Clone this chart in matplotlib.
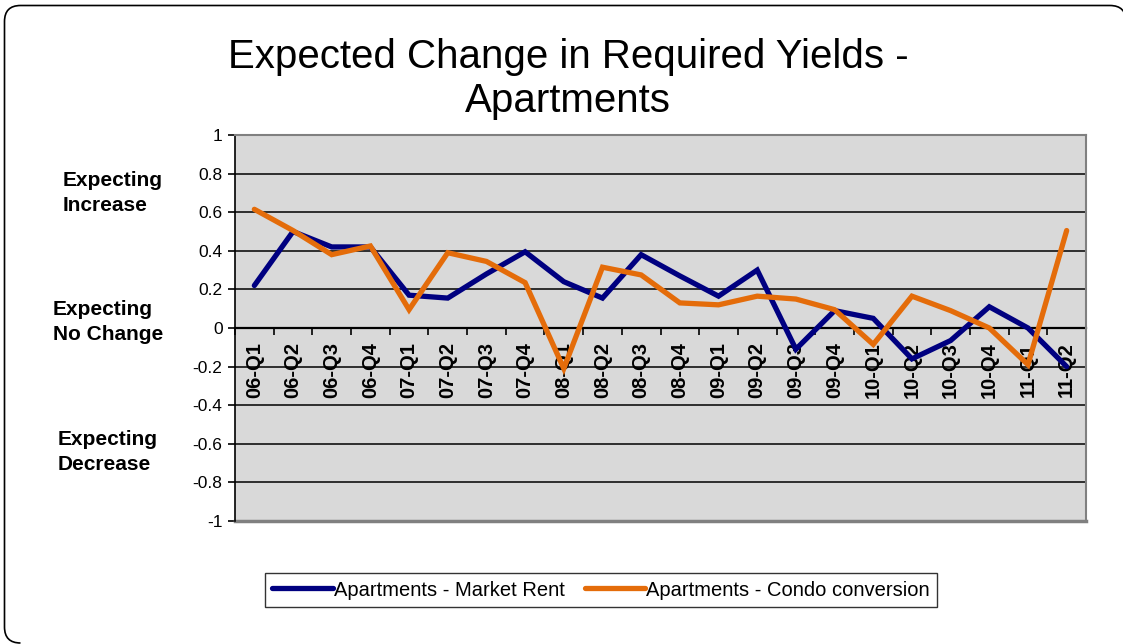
import matplotlib
matplotlib.use("Agg")
import matplotlib.pyplot as plt
from matplotlib.patches import PathPatch
from matplotlib.path import Path
from matplotlib.transforms import IdentityTransform
import numpy as np

plt.rcParams['font.family'] = ['Liberation Sans', 'DejaVu Sans']

categories = ["06-Q1", "06-Q2", "06-Q3", "06-Q4", "07-Q1", "07-Q2", "07-Q3", "07-Q4",
              "08-Q1", "08-Q2", "08-Q3", "08-Q4", "09-Q1", "09-Q2", "09-Q3", "09-Q4",
              "10-Q1", "10-Q2", "10-Q3", "10-Q4", "11-Q1", "11-Q2"]

market_rent = [0.22, 0.50, 0.42, 0.42, 0.17, 0.155, 0.28, 0.395, 0.24, 0.155, 0.38,
               0.27, 0.165, 0.30, -0.11, 0.09, 0.05, -0.16, -0.065, 0.11, 0.0, -0.20]
condo_conversion = [0.615, 0.505, 0.38, 0.425, 0.095, 0.39, 0.345, 0.235, -0.21, 0.315,
                    0.275, 0.13, 0.12, 0.165, 0.15, 0.095, -0.085, 0.165, 0.09, 0.0,
                    -0.19, 0.505]

series_names = ["Apartments - Market Rent", "Apartments - Condo conversion"]
series_colors = ["#000080", "#E46C0A"]
y_ticks = [-1, -0.8, -0.6, -0.4, -0.2, 0, 0.2, 0.4, 0.6, 0.8, 1]
y_tick_labels = ["-1", "-0.8", "-0.6", "-0.4", "-0.2", "0", "0.2", "0.4", "0.6", "0.8", "1"]
side_labels = ["Expecting\nIncrease", "Expecting\nNo Change", "Expecting\nDecrease"]
title = "Expected Change in Required Yields -\nApartments"

W, H = 1123, 644
fig = plt.figure(figsize=(W / 100, H / 100), dpi=100)

# outer rounded frame: left and top sides with rounded corners (pixels, origin bottom-left)
r = 16
left, top, bottom, right = 4.5, H - 5.5, 1.0, 1126.0
verts = [
    (left + r, bottom), (left, bottom), (left, bottom + r),          # bottom-left corner
    (left, top - r),                                                 # left side
    (left, top), (left + r, top),                                    # top-left corner
    (right - r, top),                                                # top side
    (right, top), (right, top - r),                                  # top-right corner
]
codes = [Path.MOVETO, Path.CURVE3, Path.CURVE3, Path.LINETO, Path.CURVE3, Path.CURVE3,
         Path.LINETO, Path.CURVE3, Path.CURVE3]
frame = PathPatch(Path(verts, codes), transform=IdentityTransform(), fill=False,
                  edgecolor="black", linewidth=1.2)
fig.patches.append(frame)

ax = fig.add_axes([235 / W, 1 - 521 / H, (1086 - 235) / W, (521 - 135) / H])
ax.set_facecolor("#D9D9D9")

n = len(categories)
x = np.arange(n)
ax.plot(x, market_rent, color=series_colors[0], lw=3.8, solid_capstyle="round",
        solid_joinstyle="miter", label=series_names[0], zorder=3)
ax.plot(x, condo_conversion, color=series_colors[1], lw=3.8, solid_capstyle="round",
        solid_joinstyle="miter", label=series_names[1], zorder=4)

ax.set_xlim(-0.5, n - 0.5)
ax.set_ylim(-1, 1)
ax.set_yticks(y_ticks)
ax.set_yticklabels(y_tick_labels, fontsize=12.5)
ax.yaxis.grid(True, color="black", lw=1.1)
ax.set_axisbelow(True)

# x axis at zero
ax.spines["bottom"].set_position(("data", 0))
ax.spines["bottom"].set_linewidth(1.6)
ax.spines["bottom"].set_zorder(2)
ax.spines["left"].set_color("black")
ax.spines["left"].set_linewidth(1.2)
for s in ["top", "right"]:
    ax.spines[s].set_color("#808080")
    ax.spines[s].set_linewidth(1.5)

ax.set_xticks(x)
ax.set_xticklabels(categories, rotation=90, fontsize=14.5, fontweight="bold", va="top")
ax.tick_params(axis="x", which="major", length=0, pad=10)
ax.set_xticks(np.arange(-0.5, n, 1.0), minor=True)
ax.tick_params(axis="x", which="minor", length=5, width=1.2, direction="out")
ax.tick_params(axis="y", length=5, width=1.2, direction="out", pad=4)

# bottom gray plot-area border
ax.axhline(-1, color="#808080", lw=2.5, zorder=1, clip_on=False)

# side labels
side_pos = [(63, 193), (53, 322), (58, 452)]
for lab, (xx, yy) in zip(side_labels, side_pos):
    fig.text(xx / W, 1 - yy / H, lab, ha="left", va="center", fontsize=15,
             fontweight="bold", linespacing=1.45, multialignment="left")

fig.text(568 / W, 1 - 79 / H, title, ha="center", va="center", fontsize=29, linespacing=1.2)

leg = fig.legend(loc="center", bbox_to_anchor=(601 / W, 1 - 590 / H), ncol=2, fontsize=14.5,
                 frameon=True, fancybox=False, edgecolor="black", handlelength=3.0,
                 columnspacing=1.0, handletextpad=0.05, borderpad=0.35)
leg.get_frame().set_linewidth(1.0)

fig.savefig("out.png", dpi=100)
